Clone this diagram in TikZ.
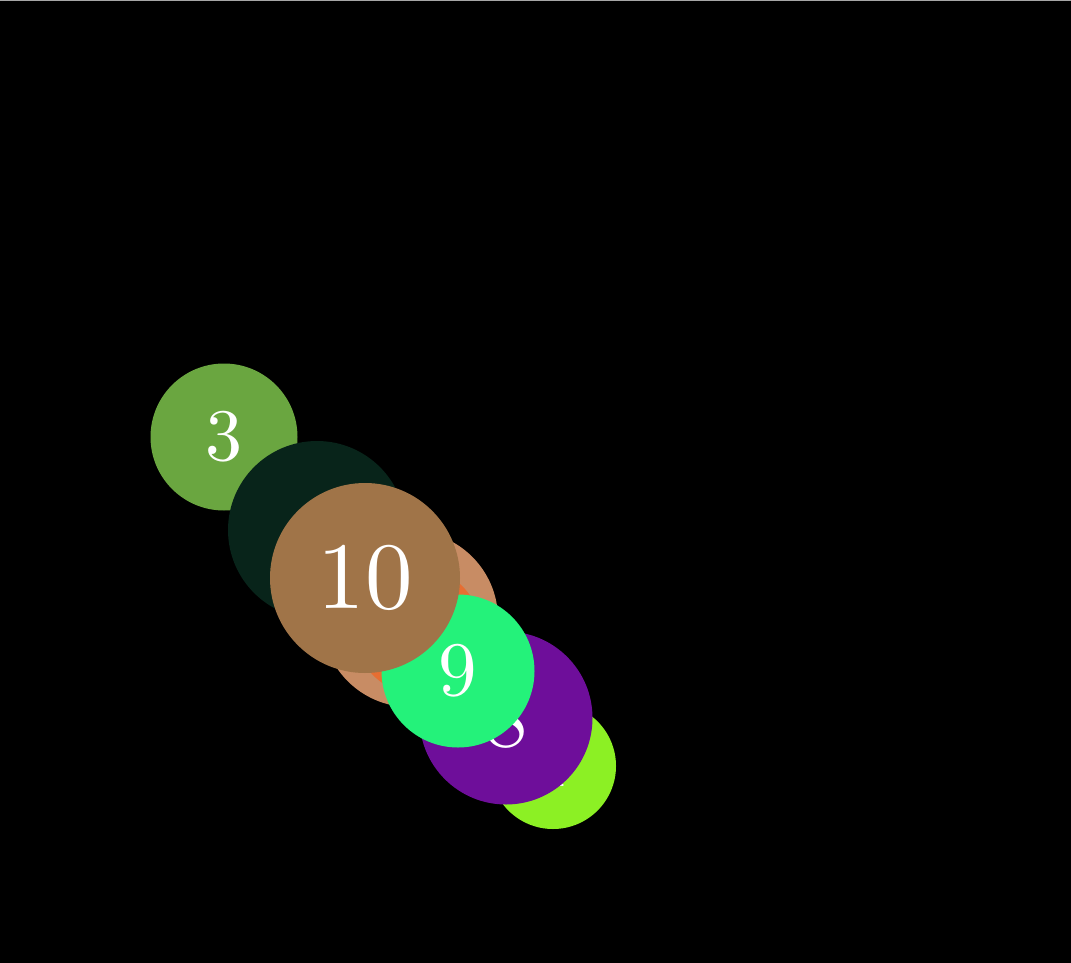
\documentclass[tikz,border=0pt]{standalone}
\usepackage{fontspec}
\setmainfont{lmroman10-regular}[Extension=.otf]
\usepackage{tikz}

\definecolor{ballgreen}{HTML}{6AA640}
\definecolor{balldark}{HTML}{08241A}
\definecolor{ballpeach}{HTML}{C88C64}
\definecolor{ballorange}{HTML}{E66E32}
\definecolor{balllime}{HTML}{8CF024}
\definecolor{ballpurple}{HTML}{6E0E9A}
\definecolor{ballmint}{HTML}{24F27A}
\definecolor{ballbrown}{HTML}{A07448}

\tikzset{ball/.style={circle, inner sep=0pt, text=white}}

\begin{document}
\begin{tikzpicture}[x=1pt, y=-1pt]
  % background
  \fill[black] (0,0) rectangle (1071,963);
  \useasboundingbox (0,0) rectangle (1071,963);
  \fill[gray!70] (0,0) rectangle (1071,1.2);

  % circles, back to front
  \node[ball, fill=ballgreen, minimum size=147pt, font=\fontsize{74}{74}\selectfont] (b3) at (224,437) {3};
  \node[ball, fill=balldark, minimum size=178pt] (b4) at (317,530) {};
  \node[ball, fill=ballpeach, minimum size=176pt] (b5) at (410,619) {};
  \node[ball, fill=ballorange, minimum size=126pt] (b6) at (418,631) {};
  \node[ball, fill=balllime, minimum size=126pt, font=\fontsize{63}{63}\selectfont] (b1) at (553,766) {1};
  \node[ball, fill=ballpurple, minimum size=173pt, font=\fontsize{87}{87}\selectfont] (b8) at (506,718) {8};
  \node[ball, fill=ballmint, minimum size=153pt, font=\fontsize{77}{77}\selectfont] (b9) at (458,671) {9};
  \node[ball, fill=ballbrown, minimum size=190pt, font=\fontsize{95}{95}\selectfont] (b10) at (365,578) {10};
\end{tikzpicture}
\end{document}
